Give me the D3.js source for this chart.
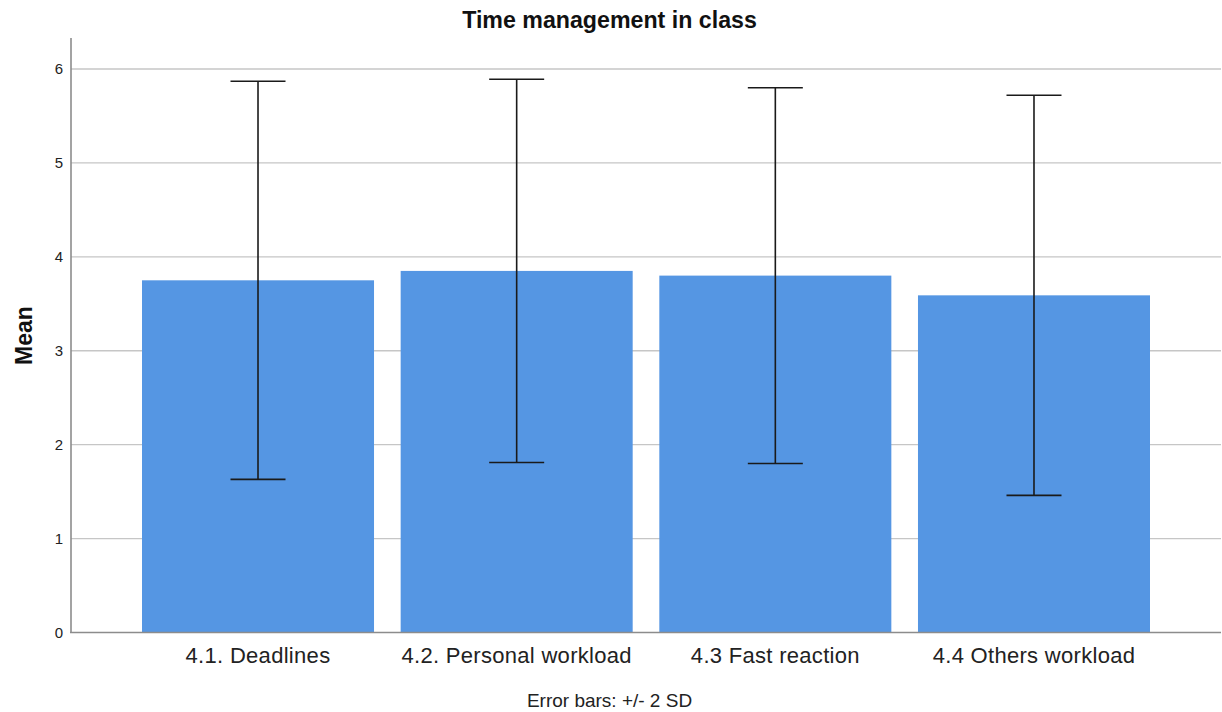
<!DOCTYPE html>
<html>
<head>
<meta charset="utf-8">
<script src="https://cdn.jsdelivr.net/npm/d3@7"></script>
<style>
  body { margin: 0; background: #fff; }
  svg text { font-family: "Liberation Sans", Arial, sans-serif; fill: #111; }
</style>
</head>
<body>
<div id="chart"></div>
<script>
var categories = ['4.1. Deadlines', '4.2. Personal workload', '4.3 Fast reaction', '4.4 Others workload'];
var means = [3.75, 3.85, 3.80, 3.59];
var sds = [1.06, 1.02, 1.00, 1.065];
var yTicks = [0, 1, 2, 3, 4, 5, 6];

(function() {
  var width = 1222, height = 712, svg, x, y, data, bars, errs, capHalf;

  data = categories.map(function(c, i) {
    return { name: c, mean: means[i], lo: means[i] - 2 * sds[i], hi: means[i] + 2 * sds[i] };
  });

  svg = d3.select('#chart').append('svg').attr('width', width).attr('height', height);

  x = d3.scaleBand().domain(categories).range([71, 1221]).paddingInner(0.103).paddingOuter(0.2745);
  y = d3.scaleLinear().domain([0, 6.33]).range([632.5, 38]);

  // gridlines
  svg.append('g').selectAll('line').data(yTicks.slice(1)).enter().append('line')
    .attr('x1', 71).attr('x2', 1221)
    .attr('y1', function(d) { return y(d); }).attr('y2', function(d) { return y(d); })
    .style('stroke', '#c6c6c6').style('stroke-width', 1.3);

  // bars
  bars = svg.append('g').selectAll('rect').data(data).enter().append('rect')
    .attr('x', function(d) { return x(d.name); })
    .attr('width', x.bandwidth())
    .attr('y', function(d) { return y(d.mean); })
    .attr('height', function(d) { return y(0) - y(d.mean); })
    .style('fill', '#5596e3');

  // error bars
  capHalf = 27.5;
  errs = svg.append('g').selectAll('g').data(data).enter().append('g')
    .attr('transform', function(d) { return 'translate(' + (x(d.name) + x.bandwidth() / 2) + ',0)'; })
    .style('stroke', '#1a1a1a').style('stroke-width', 1.6);
  errs.append('line').attr('x1', 0).attr('x2', 0)
    .attr('y1', function(d) { return y(d.hi); }).attr('y2', function(d) { return y(d.lo); });
  errs.append('line').attr('x1', -capHalf).attr('x2', capHalf)
    .attr('y1', function(d) { return y(d.hi); }).attr('y2', function(d) { return y(d.hi); });
  errs.append('line').attr('x1', -capHalf).attr('x2', capHalf)
    .attr('y1', function(d) { return y(d.lo); }).attr('y2', function(d) { return y(d.lo); });

  // axes lines
  svg.append('line').attr('x1', 71).attr('x2', 71).attr('y1', 38).attr('y2', 633)
    .style('stroke', '#8c8c8c').style('stroke-width', 1.6);
  svg.append('line').attr('x1', 70).attr('x2', 1221).attr('y1', 632.5).attr('y2', 632.5)
    .style('stroke', '#8c8c8c').style('stroke-width', 1.6);

  // y tick labels
  svg.append('g').selectAll('text').data(yTicks).enter().append('text')
    .attr('x', 63).attr('y', function(d) { return y(d) + 5.5; })
    .attr('text-anchor', 'end').style('font-size', '15px').style('fill', '#222')
    .text(function(d) { return d; });

  // category labels
  svg.append('g').selectAll('text').data(categories).enter().append('text')
    .attr('x', function(d) { return x(d) + x.bandwidth() / 2; })
    .attr('y', 662.5).attr('text-anchor', 'middle').style('font-size', '22px')
    .style('letter-spacing', '0.3px').style('fill', '#222')
    .text(function(d) { return d; });

  svg.append('text').attr('x', 609.5).attr('y', 28.3).attr('text-anchor', 'middle')
    .style('font-size', '23.2px').style('font-weight', 'bold').text('Time management in class');

  svg.append('text').attr('transform', 'translate(31.5,335.5) rotate(-90)').attr('text-anchor', 'middle')
    .style('font-size', '23px').style('font-weight', 'bold').text('Mean');

  svg.append('text').attr('x', 609.5).attr('y', 706.5).attr('text-anchor', 'middle')
    .style('font-size', '19px').style('white-space', 'pre').style('fill', '#222')
    .text('Error bars: +/- 2 SD');
})();
</script>
</body>
</html>
